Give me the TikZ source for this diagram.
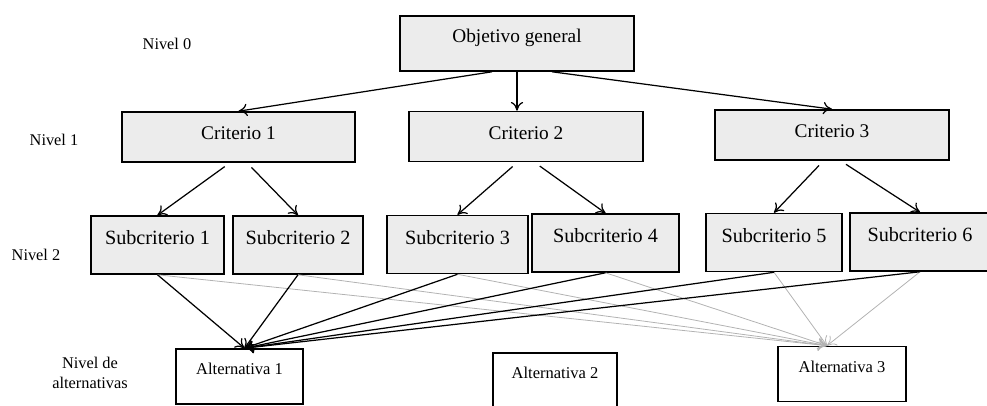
\documentclass[tikz,border=0pt]{standalone}
\usepackage{fontspec}
\setmainfont{Liberation Serif}
\usetikzlibrary{positioning,arrows.meta}

\begin{document}
\begin{tikzpicture}[>={To[length=5pt,width=7pt]},
    caja/.style={draw,line width=0.9pt,fill=gray!15,inner sep=0pt,font=\fontsize{11}{13}\selectfont},
    crit/.style={caja,minimum width=4.68cm,text height=0.56cm,text depth=0.44cm},
    sub/.style={caja,font=\fontsize{11.5}{13}\selectfont,text height=0.58cm,text depth=0.58cm},
    alt/.style={draw,line width=0.9pt,fill=white,inner sep=0pt,font=\fontsize{9.4}{11}\selectfont,text height=0.52cm,text depth=0.58cm},
    nivel/.style={font=\fontsize{9.3}{11}\selectfont,align=center},
    flecha/.style={->,line width=0.7pt},
    gris/.style={->,gray!60,line width=0.45pt}]
  \useasboundingbox (0,0) rectangle (19.74,8.12);
  \clip (0,0) rectangle (19.74,8.12);

  % niveles
  \node[nivel] (n0) at (3.34,7.24) {Nivel 0};
  \node[nivel] (n1) at (1.08,5.32) {Nivel 1};
  \node[nivel] (n2) at (0.72,3.02) {Nivel 2};
  \node[nivel] (n3) at (1.80,0.66) {Nivel de\\alternativas};

  % objetivo y criterios
  \node[caja,minimum width=4.68cm,text height=0.54cm,text depth=0.56cm] (obj) at (10.34,7.25) {Objetivo general};
  \node[crit,minimum width=4.66cm] (c1) at (4.77,5.38) {Criterio 1};
  \node[crit] (c2) at (10.52,5.39) {Criterio 2};
  \node[crit] (c3) at (16.64,5.42) {Criterio 3};

  % subcriterios
  \node[sub,minimum width=2.66cm] (s1) at (3.15,3.22) {Subcriterio 1};
  \node[sub,minimum width=2.60cm] (s2) at (5.96,3.22) {Subcriterio 2};
  \node[sub,minimum width=2.82cm] (s3) at (9.15,3.23) {Subcriterio 3};
  \node[sub,minimum width=2.94cm] (s4) at (12.11,3.26) {Subcriterio 4};
  \node[sub,minimum width=2.72cm] (s5) at (15.48,3.27) {Subcriterio 5};
  \node[sub,minimum width=2.80cm] (s6) at (18.40,3.28) {Subcriterio 6};

  % alternativas
  \node[alt,minimum width=2.54cm] (a1) at (4.79,0.59) {Alternativa 1};
  \node[alt,minimum width=2.48cm] (a2) at (11.10,0.51) {Alternativa 2};
  \node[alt,minimum width=2.56cm] (a3) at (16.84,0.64) {Alternativa 3};

  \draw[flecha] ([xshift=-0.5cm]obj.south) -- (c1.north);
  \draw[flecha] (obj.south) -- (obj.south |- c2.north);
  \draw[flecha] ([xshift=0.7cm]obj.south) -- (c3.north);

  \foreach \c/\l/\r in {c1/s1/s2,c2/s3/s4,c3/s5/s6}{
    \draw[flecha,shorten <=0.13cm] ([xshift=-0.17cm]\c.south) -- (\l.north);
    \draw[flecha,shorten <=0.13cm] ([xshift=0.17cm]\c.south) -- (\r.north);
  }

  \coordinate (p1) at ([xshift=0.1cm]a1.north);
  \coordinate (p3) at ([xshift=-0.3cm]a3.north);
  \foreach \i in {1,...,6}
    \draw[gris] (s\i.south) -- (p3);
  \foreach \i in {1,...,6}
    \draw[flecha] (s\i.south) -- (p1);
\end{tikzpicture}
\end{document}
